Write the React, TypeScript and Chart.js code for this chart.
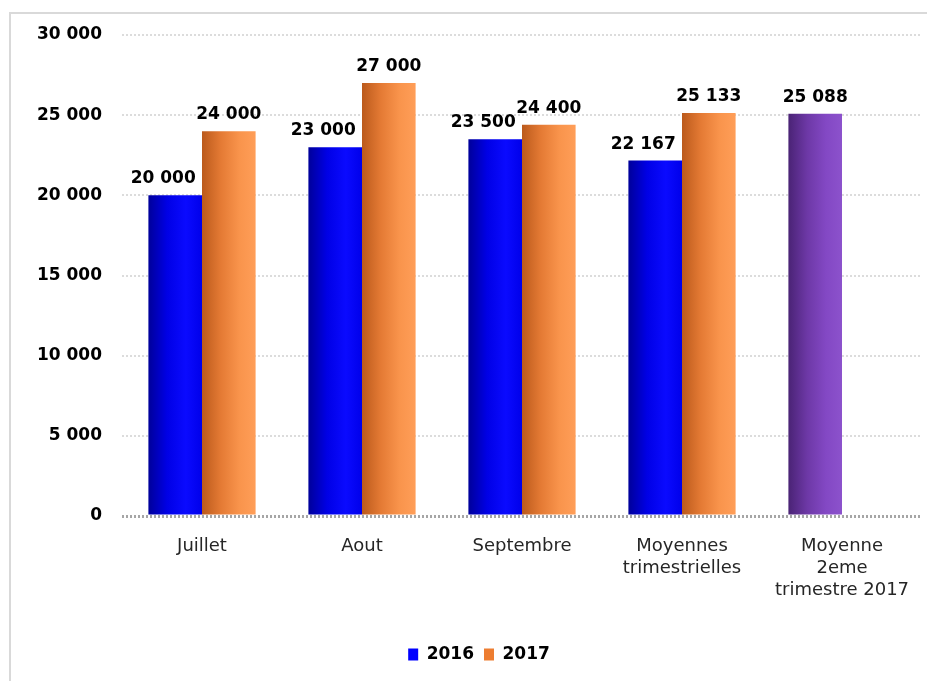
import { useEffect, useRef } from "react";
import { Chart, registerables } from "chart.js";

Chart.register(...registerables);

const CATEGORIES: string[][] = [
  ["Juillet"],
  ["Aout"],
  ["Septembre"],
  ["Moyennes", "trimestrielles"],
  ["Moyenne", "2eme", "trimestre 2017"],
];
const SERIES_NAMES = ["2016", "2017"];
const VALUES_2016: (number | null)[] = [20000, 23000, 23500, 22167, null];
const VALUES_2017: (number | null)[] = [24000, 27000, 24400, 25133, null];
const VALUES_AVG_Q2_2017: (number | null)[] = [null, null, null, null, 25088];
const Y_MIN = 0;
const Y_MAX = 30000;
const Y_STEP = 5000;

const LEGEND_COLORS = ["#0000ff", "#ed7d31"];
const GRAD_BLUE = ["#00009a", "#0000e6", "#0a0aff", "#0000ea"];
const GRAD_ORANGE = ["#bb5a1c", "#e47a34", "#f9944c", "#ff9e58"];
const GRAD_PURPLE = ["#4a2375", "#6d38a6", "#8348c4", "#8c52cc"];

const CAT_PCT = 0.67;
const BAR_PCT = 1.0;

const fmt = (v: number) => String(Math.round(v)).replace(/\B(?=(\d{3})+(?!\d))/g, " ");

function gradientFor(stops: string[], slot: number) {
  return (ctx: any) => {
    const chart = ctx.chart;
    const x = chart.scales?.x;
    if (!x || ctx.dataIndex === undefined || !x.width) return stops[2];
    const center = x.getPixelForValue(ctx.dataIndex);
    const cat = x.width / CATEGORIES.length;
    const barW = (cat * CAT_PCT * BAR_PCT) / 2;
    const c = center + (slot === 0 ? -1 : 1) * (cat * CAT_PCT) / 4;
    const g = chart.ctx.createLinearGradient(c - barW / 2, 0, c + barW / 2, 0);
    g.addColorStop(0, stops[0]);
    g.addColorStop(0.35, stops[1]);
    g.addColorStop(0.7, stops[2]);
    g.addColorStop(1, stops[3]);
    return g;
  };
}

const valueLabels = {
  id: "valueLabels",
  afterDatasetsDraw(chart: any) {
    const ctx = chart.ctx;
    ctx.save();
    ctx.font = "bold 17px 'DejaVu Sans'";
    ctx.fillStyle = "#000";
    ctx.textAlign = "center";
    ctx.textBaseline = "alphabetic";
    chart.data.datasets.forEach((ds: any, di: number) => {
      const meta = chart.getDatasetMeta(di);
      meta.data.forEach((el: any, i: number) => {
        const v = ds.data[i];
        if (v === null || v === undefined) return;
        const dx = di === 0 && VALUES_2017[i] !== null ? -12 : 0;
        ctx.fillText(fmt(v), el.x + dx, el.y - 12);
      });
    });
    ctx.restore();
  },
};

export default function App() {
  const ref = useRef<HTMLCanvasElement | null>(null);

  useEffect(() => {
    document.body.style.margin = "0";
    const canvas = ref.current;
    if (!canvas) return;
    const chart = new Chart(canvas, {
      type: "bar",
      data: {
        labels: CATEGORIES,
        datasets: [
          {
            label: SERIES_NAMES[0],
            data: VALUES_2016,
            stack: "a",
            backgroundColor: gradientFor(GRAD_BLUE, 0),
            categoryPercentage: CAT_PCT,
            barPercentage: BAR_PCT,
          },
          {
            label: SERIES_NAMES[1],
            data: VALUES_2017,
            stack: "b",
            backgroundColor: gradientFor(GRAD_ORANGE, 1),
            categoryPercentage: CAT_PCT,
            barPercentage: BAR_PCT,
          },
          {
            label: "Moyenne 2eme trimestre 2017",
            data: VALUES_AVG_Q2_2017,
            stack: "a",
            backgroundColor: gradientFor(GRAD_PURPLE, 0),
            categoryPercentage: CAT_PCT,
            barPercentage: BAR_PCT,
          },
        ] as any,
      },
      options: {
        animation: false,
        responsive: true,
        maintainAspectRatio: false,
        layout: { padding: { top: 35, left: 36, right: 5, bottom: 8 } },
        scales: {
          x: {
            stacked: true,
            grid: { display: false },
            border: { display: false },
            ticks: {
              color: "#262626",
              font: { family: "'DejaVu Sans'", size: 18 },
              padding: 12,
              maxRotation: 0,
              autoSkip: false,
            },
            afterFit: (s: any) => {
              s.height = 120;
            },
          } as any,
          y: {
            stacked: true,
            min: Y_MIN,
            max: Y_MAX,
            grid: {
              drawTicks: false,
              color: (c: any) => (c.tick && c.tick.value === 0 ? "#a6a6a6" : "#dcdcdc"),
              lineWidth: (c: any) => (c.tick && c.tick.value === 0 ? 3 : 2),
            },
            border: { display: false, dash: [2, 2] },
            ticks: {
              stepSize: Y_STEP,
              color: "#000",
              padding: 20,
              font: { family: "'DejaVu Sans'", size: 17, weight: "bold" },
              callback: (v: any) => fmt(Number(v)),
            },
            afterFit: (s: any) => {
              s.width = 86;
            },
          } as any,
        },
        plugins: {
          tooltip: { enabled: false },
          legend: {
            position: "bottom",
            labels: {
              boxWidth: 10,
              boxHeight: 12,
              padding: 10,
              color: "#000",
              font: { family: "'DejaVu Sans'", size: 17, weight: "bold" },
              generateLabels: () =>
                SERIES_NAMES.map((n, i) => ({
                  text: n,
                  fillStyle: LEGEND_COLORS[i],
                  strokeStyle: LEGEND_COLORS[i],
                  lineWidth: 0,
                  hidden: false,
                  datasetIndex: i,
                  fontColor: "#000",
                })),
            },
          },
        },
      },
      plugins: [valueLabels],
    });
    return () => chart.destroy();
  }, []);

  return (
    <div style={{ position: "fixed", left: 0, top: 0, width: 927, height: 681, background: "#fff", overflow: "hidden" }}>
      <div
        style={{
          position: "absolute",
          left: 9,
          top: 12,
          width: 960,
          height: 720,
          border: "2px solid #d9d9d9",
          boxSizing: "border-box",
        }}
      />
      <div style={{ position: "absolute", left: 0, top: 0, width: 927, height: 681 }}>
        <canvas ref={ref} />
      </div>
    </div>
  );
}
